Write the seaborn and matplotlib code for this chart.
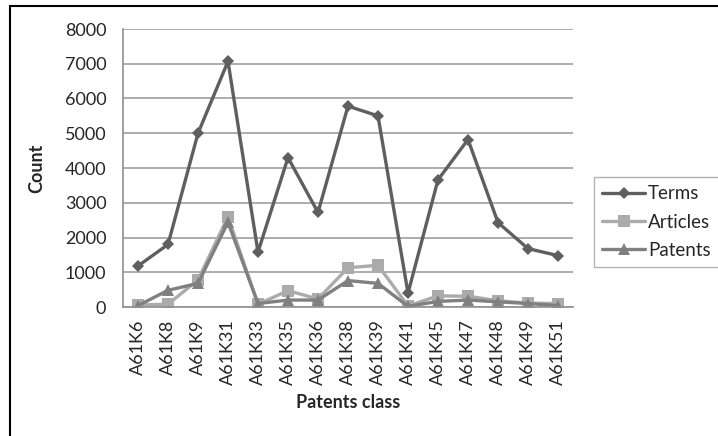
import matplotlib
matplotlib.use("Agg")
import matplotlib.pyplot as plt
from matplotlib.lines import Line2D
import pandas as pd
import seaborn as sns

classes = ["A61K6", "A61K8", "A61K9", "A61K31", "A61K33", "A61K35", "A61K36", "A61K38",
           "A61K39", "A61K41", "A61K45", "A61K47", "A61K48", "A61K49", "A61K51"]
terms = [1180, 1800, 5000, 7070, 1580, 4300, 2720, 5780, 5500, 400, 3660, 4820, 2430, 1680, 1480]
articles = [60, 80, 780, 2600, 80, 470, 230, 1130, 1200, 30, 320, 310, 180, 110, 100]
patents = [40, 480, 680, 2440, 100, 200, 200, 760, 680, 20, 160, 200, 150, 100, 40]

series = {"Terms": terms, "Articles": articles, "Patents": patents}
colors = {"Terms": "#5f5f5f", "Articles": "#ababab", "Patents": "#808080"}
markers = {"Terms": "D", "Articles": "s", "Patents": "^"}
msizes = {"Terms": 6.5, "Articles": 8.5, "Patents": 8.5}

df = pd.DataFrame([
    {"cls": c, "pos": i, "series": name, "count": v}
    for name, vals in series.items()
    for i, (c, v) in enumerate(zip(classes, vals))
])

sns.set_style("white")
plt.rcParams["font.family"] = ["Lato", "DejaVu Sans"]

fig = plt.figure(figsize=(7.18, 4.36), dpi=100)
ax = fig.add_axes([123 / 718, 1 - 307 / 436, 450 / 718, 278 / 436])

for name in series:
    sub = df[df["series"] == name]
    sns.lineplot(data=sub, x="pos", y="count", ax=ax, color=colors[name], linewidth=2.4,
                 marker=markers[name], markersize=msizes[name], markeredgewidth=0,
                 label=name, legend=False)

ax.set_xlim(-0.5, len(classes) - 0.5)
ax.set_ylim(0, 8000)
ax.set_yticks(range(0, 8001, 1000))
ax.set_xticks(range(len(classes)))
ax.set_xticklabels(classes, rotation=90, fontsize=13)
ax.tick_params(axis="y", labelsize=13, length=0, pad=12)
ax.tick_params(axis="x", length=0, pad=9)
ax.yaxis.grid(True, color="#a0a0a0", linewidth=1.2)
ax.set_axisbelow(True)
for side in ["top", "right"]:
    ax.spines[side].set_visible(False)
for side in ["left", "bottom"]:
    ax.spines[side].set_color("#909090")
    ax.spines[side].set_linewidth(1.2)

ax.set_xlabel("Patents class", fontsize=13, fontweight="bold", labelpad=6)
ax.set_ylabel("Count", fontsize=13, fontweight="bold", labelpad=14)

handles, labels = ax.get_legend_handles_labels()
leg = fig.legend(handles, labels, loc="center", bbox_to_anchor=(656.5 / 718, 1 - 222 / 436),
                 fontsize=13.5, frameon=True, fancybox=False, edgecolor="#a0a0a0",
                 handlelength=2.3, handletextpad=0.15, labelspacing=0.6, borderpad=0.45,
                 borderaxespad=0)
leg.get_frame().set_linewidth(1.0)

# outer chart frame (top and left edges visible)
fig.add_artist(Line2D([10 / 718, 10 / 718], [0, 1 - 6.5 / 436], transform=fig.transFigure,
                      color="black", linewidth=1.5))
fig.add_artist(Line2D([10 / 718, 1], [1 - 6.5 / 436, 1 - 6.5 / 436], transform=fig.transFigure,
                      color="black", linewidth=1.5))

fig.savefig("out.png", dpi=100)
